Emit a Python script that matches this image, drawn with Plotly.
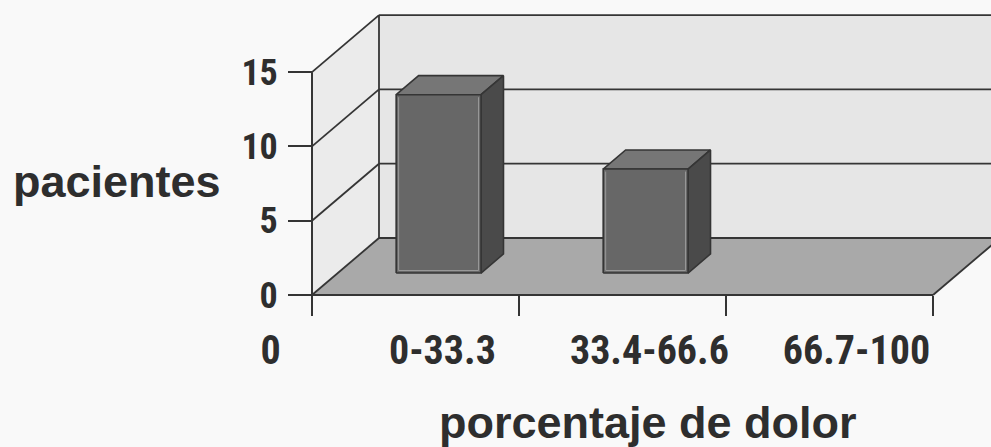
import plotly.graph_objects as go

# Chart data
categories = ["0-33.3", "33.4-66.6", "66.7-100"]
pacientes = [12, 7, 0]
y_ticks = [0, 5, 10, 15]
y_max = 15
x_axis_labels = ["0"] + categories

# Oblique projection of the 3D box (depth 0 = front plane, 1 = back wall)
DEPTH_X = 0.3237   # horizontal shift of the back wall, in category units
DEPTH_Y = 3.836    # vertical shift of the back wall, in value units
N = len(categories)

BAR_HALF = 0.205
BAR_CENTER_SHIFT = -0.013
BAR_FRONT = 0.385
BAR_BACK = 0.72

LINE = "#353535"
TEXT = "#2e2e2e"
NARROW = "Roboto Condensed, Liberation Sans Narrow, DejaVu Sans Condensed, sans-serif"
WIDE = "Liberation Sans, Arial, sans-serif"


def proj(x, y, d):
    return x + d * DEPTH_X, y + d * DEPTH_Y


def poly(points, fill, line_color=LINE, width=1.6):
    xs = [p[0] for p in points] + [points[0][0]]
    ys = [p[1] for p in points] + [points[0][1]]
    return go.Scatter(x=xs, y=ys, mode="lines", fill="toself", fillcolor=fill,
                      line=dict(color=line_color, width=width),
                      hoverinfo="skip", showlegend=False)


def path(points, color, width):
    return go.Scatter(x=[p[0] for p in points], y=[p[1] for p in points], mode="lines",
                      line=dict(color=color, width=width),
                      hoverinfo="skip", showlegend=False)


def seg(p0, p1, color=LINE, width=1.8):
    return path([p0, p1], color, width)


fig = go.Figure()

far_right = N + 0.6

# back wall
fig.add_trace(poly([proj(0, 0, 1), proj(far_right, 0, 1),
                    proj(far_right, y_max, 1), proj(0, y_max, 1)],
                   "#e6e6e6", width=0))
# left side wall
fig.add_trace(poly([proj(0, 0, 0), proj(0, 0, 1), proj(0, y_max, 1), proj(0, y_max, 0)],
                   "#ebebeb", width=0))
# floor
fig.add_trace(poly([proj(0, 0, 0), proj(N, 0, 0), proj(N, 0, 1), proj(0, 0, 1)],
                   "#a9a9a9", width=0))

# gridlines on the side wall and back wall
for v in y_ticks:
    fig.add_trace(seg(proj(0, v, 0), proj(0, v, 1)))
    fig.add_trace(seg(proj(0, v, 1), proj(far_right, v, 1)))
# back-left vertical edge
fig.add_trace(seg(proj(0, 0, 1), proj(0, y_max, 1)))
# floor front and right edges
fig.add_trace(seg(proj(0, 0, 0), proj(N, 0, 0)))
fig.add_trace(seg(proj(N, 0, 0), proj(N, 0, 1)))
# front value axis line
fig.add_trace(seg((0, -1.35), (0, y_max), width=2))

# 3D bars
for i, val in enumerate(pacientes):
    if val <= 0:
        continue
    c = i + 0.5 + BAR_CENTER_SHIFT
    x0, x1 = c - BAR_HALF, c + BAR_HALF
    # top face
    fig.add_trace(poly([proj(x0, val, BAR_FRONT), proj(x1, val, BAR_FRONT),
                        proj(x1, val, BAR_BACK), proj(x0, val, BAR_BACK)], "#767676"))
    # right side face
    fig.add_trace(poly([proj(x1, 0, BAR_FRONT), proj(x1, 0, BAR_BACK),
                        proj(x1, val, BAR_BACK), proj(x1, val, BAR_FRONT)], "#4a4a4a"))
    # front face
    fig.add_trace(poly([proj(x0, 0, BAR_FRONT), proj(x1, 0, BAR_FRONT),
                        proj(x1, val, BAR_FRONT), proj(x0, val, BAR_FRONT)], "#676767"))
    # light bevel just inside the front face
    ix0, ix1 = x0 + 0.012, x1 - 0.012
    iy0, iy1 = 0.17, val - 0.17
    fig.add_trace(path([proj(ix0, iy1, BAR_FRONT), proj(ix0, iy0, BAR_FRONT),
                        proj(ix1, iy0, BAR_FRONT), proj(ix1, iy1, BAR_FRONT)],
                       "#9a9a9a", 1))

label_pos = [-0.2] + [i + 0.63 for i in range(N)]

fig.update_layout(
    width=991, height=447,
    margin=dict(l=0, r=0, t=0, b=0),
    paper_bgcolor="#f9f9f9", plot_bgcolor="#f9f9f9",
    showlegend=False,
    xaxis=dict(range=[-1.507, 3.280], showgrid=False, zeroline=False, showline=False,
               anchor="free", position=0.340,
               tickmode="array", tickvals=label_pos, ticktext=x_axis_labels,
               ticks="", ticklabelstandoff=28,
               tickfont=dict(family=NARROW, size=40, color=TEXT, weight="bold"),
               minor=dict(tickmode="array", tickvals=list(range(N + 1)), ticks="outside",
                          ticklen=20, tickwidth=2, tickcolor=LINE, showgrid=False),
               fixedrange=True),
    yaxis=dict(range=[-10.229, 19.852], showgrid=False, zeroline=False, showline=False,
               anchor="free", position=312 / 991, side="left",
               tickmode="array", tickvals=y_ticks, ticks="outside",
               ticklen=24, tickwidth=2, tickcolor=LINE, ticklabelstandoff=3,
               tickfont=dict(family=NARROW, size=36, color=TEXT, weight="bold"),
               fixedrange=True),
    annotations=[
        dict(text="pacientes", xref="paper", yref="paper", x=117 / 991, y=1 - 181 / 447,
             showarrow=False, xanchor="center", yanchor="middle",
             font=dict(family=WIDE, size=45, color=TEXT, weight="bold")),
        dict(text="porcentaje de dolor", xref="paper", yref="paper", x=648 / 991,
             y=1 - 422 / 447, showarrow=False, xanchor="center", yanchor="middle",
             font=dict(family=WIDE, size=45, color=TEXT, weight="bold")),
    ],
)

fig.write_html("out.html")
